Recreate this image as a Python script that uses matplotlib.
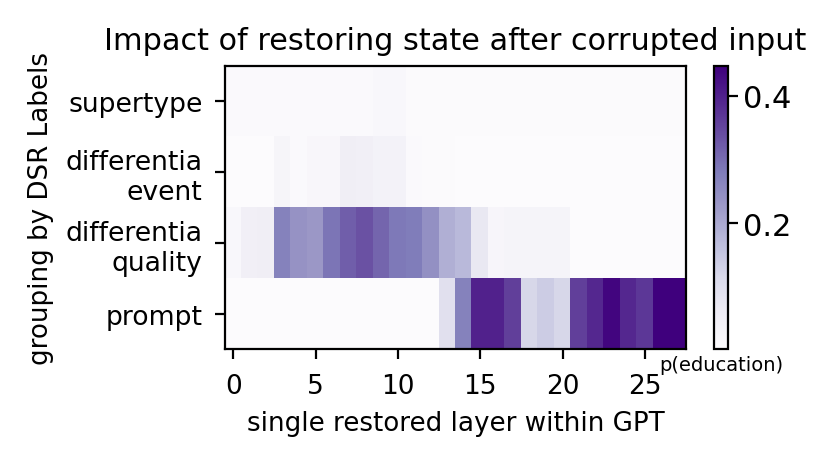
import numpy as np
import matplotlib
matplotlib.use("Agg")
import matplotlib.pyplot as plt

# rows: DSR label groups, columns: restored layer 0..27
labels = ["supertype", "differentia\nevent", "differentia\nquality", "prompt"]
layers = list(range(28))

supertype = [0.010, 0.010, 0.010, 0.010, 0.012, 0.012, 0.012, 0.012, 0.012, 0.018,
             0.018, 0.008, 0.008, 0.008, 0.006, 0.006, 0.006, 0.006, 0.006, 0.006,
             0.006, 0.006, 0.006, 0.006, 0.006, 0.006, 0.006, 0.006]
diff_event = [0.003, 0.003, 0.003, 0.027, 0.010, 0.022, 0.022, 0.055, 0.050, 0.040,
              0.040, 0.012, 0.006, 0.006, 0.003, 0.003, 0.003, 0.003, 0.003, 0.003,
              0.003, 0.003, 0.003, 0.003, 0.003, 0.003, 0.003, 0.003]
diff_quality = [0.018, 0.050, 0.055, 0.270, 0.240, 0.230, 0.290, 0.320, 0.335, 0.310,
                0.285, 0.280, 0.245, 0.190, 0.175, 0.075, 0.025, 0.032, 0.032, 0.032,
                0.032, 0.003, 0.003, 0.003, 0.003, 0.003, 0.003, 0.003]
prompt = [0.003, 0.003, 0.003, 0.003, 0.003, 0.003, 0.003, 0.003, 0.003, 0.003,
          0.003, 0.003, 0.003, 0.095, 0.270, 0.400, 0.400, 0.360, 0.120, 0.140,
          0.120, 0.360, 0.390, 0.440, 0.390, 0.370, 0.447, 0.447]

differences = np.array([supertype, diff_event, diff_quality, prompt])

fig = plt.figure(figsize=(8.31, 4.64), dpi=100)
scale = 2.0  # text sized as if drawn at dpi 200
ax = fig.add_axes([225 / 831, 1 - 350 / 464, (686 - 225) / 831, (350 - 67) / 464])
cax = fig.add_axes([714 / 831, 1 - 350 / 464, 14 / 831, (350 - 67) / 464])

h = ax.pcolor(differences, cmap="Purples", vmin=0.002, vmax=0.447)
ax.invert_yaxis()
ax.set_yticks([0.5 + i for i in range(len(labels))])
ax.set_xticks([0.5 + i for i in range(0, len(layers) - 2, 5)])
ax.set_xticklabels(list(range(0, len(layers) - 2, 5)), fontsize=9.5 * scale)
ax.set_yticklabels(labels, fontsize=9.6 * scale)
ax.tick_params(axis="x", length=3.6 * scale, width=0.8 * scale, pad=5 * scale)
ax.tick_params(axis="y", length=3.6 * scale, width=0.8 * scale, pad=4.5 * scale)
for s in ax.spines.values():
    s.set_linewidth(0.8 * scale)
ax.set_title("Impact of restoring state after corrupted input", fontsize=10.9 * scale, pad=6 * scale)
ax.set_xlabel("single restored layer within GPT", fontsize=9.4 * scale, labelpad=4 * scale)
ax.set_ylabel("grouping by DSR Labels", fontsize=9.4 * scale, labelpad=4 * scale)

cb = fig.colorbar(h, cax=cax)
cb.set_ticks([0.2, 0.4])
cb.ax.tick_params(labelsize=11 * scale, length=3.6 * scale, width=0.8 * scale)
cb.outline.set_linewidth(0.8 * scale)
cb.ax.set_title("p(education)", y=-0.105, fontsize=7 * scale)

fig.savefig("out.png", dpi=100)
